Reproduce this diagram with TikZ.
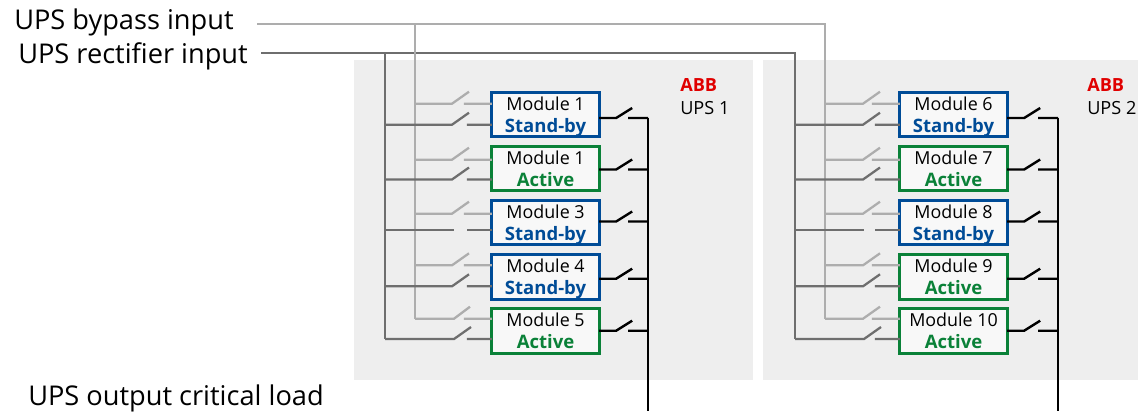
\documentclass[tikz,border=0pt]{standalone}
\usepackage{fontspec}
\setmainfont{Open Sans}
\usepackage{tikz}
\usetikzlibrary{calc,positioning}
\definecolor{panelgray}{HTML}{EEEEEE}
\definecolor{bypassgray}{HTML}{ADADAD}
\definecolor{rectgray}{HTML}{6E6E6E}
\definecolor{abbblue}{HTML}{004C97}
\definecolor{abbgreen}{HTML}{0A8138}
\definecolor{abbred}{HTML}{E00000}

\begin{document}
\begin{tikzpicture}[x=0.75pt,y=-0.75pt]
\tikzstyle{module}=[draw, fill=white!60!panelgray, line width=2.1pt, inner sep=0pt, outer sep=0pt, minimum width=80.5pt, minimum height=33.5pt, align=center, font=\fontsize{13.4}{16.5}\selectfont]
\tikzstyle{standby}=[module, draw=abbblue]
\tikzstyle{active}=[module, draw=abbgreen]
\tikzstyle{biglabel}=[anchor=base west, inner sep=0pt, font=\fontsize{20.4}{24}\selectfont]
\tikzstyle{smalllabel}=[anchor=base west, inner sep=0pt, font=\fontsize{13.6}{16}\selectfont]
\tikzstyle{bypasswire}=[bypassgray, line width=1.7pt]
\tikzstyle{rectwire}=[rectgray, line width=1.7pt]
\tikzstyle{outwire}=[black, line width=1.8pt]
\newcommand{\stby}{\smash{\fontsize{13.9}{16.5}\selectfont\textcolor{abbblue}{\bfseries Stand-by}}}
\newcommand{\actv}{\smash{\fontsize{13.9}{16.5}\selectfont\textcolor{abbgreen}{\bfseries Active}}}

\useasboundingbox (0,0) rectangle (1138,411);
\fill[panelgray] (354,60) rectangle (753,380);
\fill[panelgray] (763,60) rectangle (1138,380);

% input and output labels
\node[biglabel] (bypasslabel) at (14,29) {UPS bypass input};
\node[biglabel] (rectlabel) at (18,63) {UPS rectifier input};
\node[biglabel] (outlabel) at (28,405) {UPS output critical load};
\node[smalllabel, abbred] (abb1) at (680,91) {\bfseries ABB};
\node[smalllabel] (ups1) at (680,114) {UPS 1};
\node[smalllabel, abbred] (abb2) at (1087,91) {\bfseries ABB};
\node[smalllabel] (ups2) at (1087,114) {UPS 2};

% modules
\node[standby] (M1) at (545.5,114.5) {Module 1\\\stby};
\node[active]  (M2) at (545.5,168.5) {Module 1\\\actv};
\node[standby] (M3) at (545.5,222.5) {Module 3\\\stby};
\node[standby] (M4) at (545.5,277) {Module 4\\\stby};
\node[active]  (M5) at (545.5,331) {Module 5\\\actv};
\node[standby] (M6) at (953.5,114.5) {Module 6\\\stby};
\node[active]  (M7) at (953.5,168.5) {Module 7\\\actv};
\node[standby] (M8) at (953.5,222.5) {Module 8\\\stby};
\node[active]  (M9) at (953.5,277) {Module 9\\\actv};
\node[active]  (M10) at (953.5,331) {Module 10\\\actv};

% feeders
\coordinate (bystart) at (257,24);
\coordinate (rectstart) at (261,53);
\coordinate (B1) at (415,24);
\coordinate (R1) at (385,53);
\coordinate (B2) at (825,24);
\coordinate (R2) at (795,53);
\coordinate (O1) at (648,118);
\coordinate (O2) at (1058,118);
\coordinate (O1end) at (648,411);
\coordinate (O2end) at (1058,411);
\draw[rectwire] (rectstart) -- (R2) -- (R2 |- 0,339);
\draw[rectwire] (R1) -- (R1 |- 0,339);
\draw[bypasswire] (bystart) -- (B2) -- (B2 |- 0,318.7);
\draw[bypasswire] (B1) -- (B1 |- 0,318.7);
\draw[outwire] (O1) -- (O1end);
\draw[outwire] (O2) -- (O2end);

% UPS 1 switches
\draw[bypasswire] (B1 |- 0,103.7) -- (452,103.7) -- ++(17,-12) (M1.west |- 0,103.7) -- ++(-28,0);
\draw[rectwire] (R1 |- 0,124.7) -- (452,124.7) -- ++(17,-12) (M1.west |- 0,124.7) -- ++(-25,0);
\draw[outwire] (M1.east |- O1) -- ++(17,0) -- ++(16,-10) (O1) -- ++(-20,0);
\draw[bypasswire] (B1 |- 0,159.7) -- (452,159.7) -- ++(17,-12) (M2.west |- 0,159.7) -- ++(-28,0);
\draw[rectwire] (R1 |- 0,179.5) -- (452,179.5) -- ++(17,-12) (M2.west |- 0,179.5) -- ++(-25,0);
\draw[outwire] (M2.east |- 0,169.5) -- ++(17,0) -- ++(16,-10) (O1 |- 0,169.5) -- ++(-20,0);
\draw[bypasswire] (B1 |- 0,213.7) -- (452,213.7) -- ++(17,-12) (M3.west |- 0,213.7) -- ++(-28,0);
\draw[rectwire] (R1 |- 0,229.7) -- (454,229.7) (M3.west |- 0,229.7) -- ++(-25,0);
\draw[outwire] (M3.east |- 0,221.5) -- ++(17,0) -- ++(16,-10) (O1 |- 0,221.5) -- ++(-20,0);
\draw[bypasswire] (B1 |- 0,265.3) -- (452,265.3) -- ++(17,-12) (M4.west |- 0,265.3) -- ++(-28,0);
\draw[rectwire] (R1 |- 0,286.3) -- (452,286.3) -- ++(17,-12) (M4.west |- 0,286.3) -- ++(-25,0);
\draw[outwire] (M4.east |- 0,278.7) -- ++(17,0) -- ++(16,-10) (O1 |- 0,278.7) -- ++(-20,0);
\draw[bypasswire] (B1 |- 0,318.7) -- (454,318.7) -- ++(16,-12) (M5.west |- 0,318.7) -- ++(-28,0);
\draw[rectwire] (R1 |- 0,339) -- (454,339) -- ++(17,-12) (M5.west |- 0,339) -- ++(-25,0);
\draw[outwire] (M5.east |- 0,330.7) -- ++(17,0) -- ++(16,-10) (O1 |- 0,330.7) -- ++(-20,0);

% UPS 2 switches
\draw[bypasswire] (B2 |- 0,103.7) -- (863,103.7) -- ++(17,-12) (M6.west |- 0,103.7) -- ++(-28,0);
\draw[rectwire] (R2 |- 0,124.7) -- (863,124.7) -- ++(17,-12) (M6.west |- 0,124.7) -- ++(-25,0);
\draw[outwire] (M6.east |- O2) -- ++(17,0) -- ++(16,-10) (O2) -- ++(-20,0);
\draw[bypasswire] (B2 |- 0,159.7) -- (863,159.7) -- ++(17,-12) (M7.west |- 0,159.7) -- ++(-28,0);
\draw[rectwire] (R2 |- 0,179.5) -- (863,179.5) -- ++(17,-12) (M7.west |- 0,179.5) -- ++(-25,0);
\draw[outwire] (M7.east |- 0,169.5) -- ++(17,0) -- ++(16,-10) (O2 |- 0,169.5) -- ++(-20,0);
\draw[bypasswire] (B2 |- 0,213.7) -- (863,213.7) -- ++(17,-12) (M8.west |- 0,213.7) -- ++(-28,0);
\draw[rectwire] (R2 |- 0,229.7) -- (864,229.7) (M8.west |- 0,229.7) -- ++(-25,0);
\draw[outwire] (M8.east |- 0,221.5) -- ++(17,0) -- ++(16,-10) (O2 |- 0,221.5) -- ++(-20,0);
\draw[bypasswire] (B2 |- 0,265.3) -- (863,265.3) -- ++(17,-12) (M9.west |- 0,265.3) -- ++(-28,0);
\draw[rectwire] (R2 |- 0,286.3) -- (863,286.3) -- ++(17,-12) (M9.west |- 0,286.3) -- ++(-25,0);
\draw[outwire] (M9.east |- 0,278.7) -- ++(17,0) -- ++(16,-10) (O2 |- 0,278.7) -- ++(-20,0);
\draw[bypasswire] (B2 |- 0,318.7) -- (863,318.7) -- ++(17,-12) (M10.west |- 0,318.7) -- ++(-28,0);
\draw[rectwire] (R2 |- 0,339) -- (864,339) -- ++(17,-12) (M10.west |- 0,339) -- ++(-25,0);
\draw[outwire] (M10.east |- 0,330.7) -- ++(17,0) -- ++(16,-10) (O2 |- 0,330.7) -- ++(-20,0);
\end{tikzpicture}
\end{document}
